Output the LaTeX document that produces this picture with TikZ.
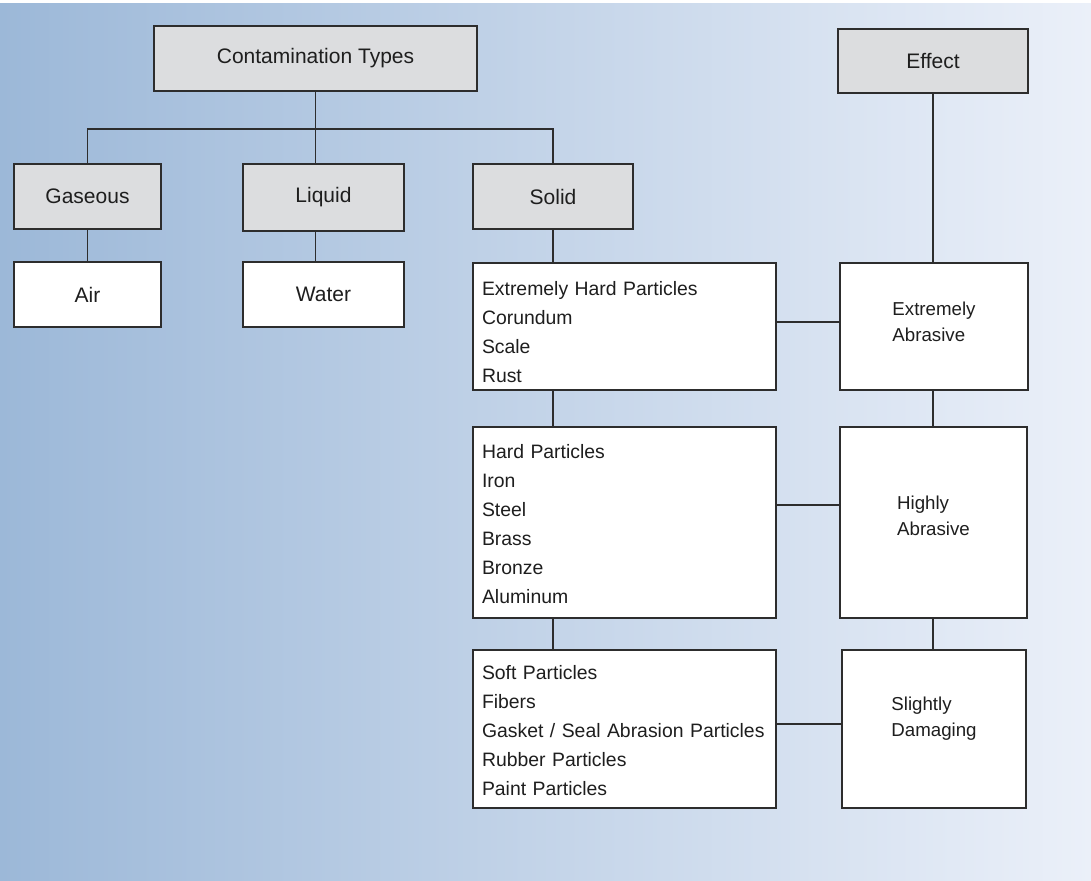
\documentclass[tikz,border=0pt]{standalone}
\usepackage{fontspec}
\setmainfont{Liberation Sans}
\definecolor{bgleft}{RGB}{156,184,216}
\definecolor{bgmid}{RGB}{191,207,230}
\definecolor{bgright}{RGB}{235,240,249}
\definecolor{boxgray}{RGB}{220,221,223}
\definecolor{edge}{RGB}{45,45,45}
\definecolor{ink}{RGB}{30,30,30}
\tikzset{
  box/.style={draw=edge, line width=1.5bp, fill=white, text=ink, inner sep=0pt},
  headbox/.style={box, fill=boxgray, font=\fontsize{21bp}{25bp}\selectfont},
  leafbox/.style={box, font=\fontsize{21bp}{25bp}\selectfont},
  listbox/.style={box, align=left, inner xsep=9bp, text width=285bp,
    font=\fontsize{19.4bp}{29bp}\selectfont},
  effbox/.style={box, align=left, font=\fontsize{18.7bp}{26bp}\selectfont},
  link/.style={draw=edge, line width=1.5bp}
}
\begin{document}
\begin{tikzpicture}[x=1bp, y=-1bp]
    % background
    \useasboundingbox (0,0) rectangle (1091,881);
    \shade[left color=bgleft, middle color=bgmid, right color=bgright] (0,3) rectangle (1091,881);
    % top row
    \node[headbox, minimum width=323bp, minimum height=65bp] (ctypes) at (315.5,58.5) {Contamination Types};
    \node[headbox, minimum width=190bp, minimum height=64bp] (effect) at (933,61) {Effect};
    % kinds
    \node[headbox, minimum width=147bp, minimum height=65bp] (gas) at (87.5,196.5) {Gaseous};
    \node[headbox, minimum width=161bp, minimum height=67bp] (liq) at (323.5,197.5) {Liquid};
    \node[headbox, minimum width=160bp, minimum height=65bp] (sol) at (553,196.5) {Solid};
    \node[leafbox, minimum width=147bp, minimum height=65bp] (air) at (87.5,294.5) {Air};
    \node[leafbox, minimum width=161bp, minimum height=65bp] (water) at (323.5,294.5) {Water};
    % particles
    \node[listbox, minimum height=127bp, text height=26bp] (xhard) at (624.5,326.5)
        {Extremely Hard Particles\\Corundum\\Scale\\Rust};
    \node[listbox, minimum height=191bp, text height=17bp] (hard) at (624.5,522.5)
        {Hard Particles\\Iron\\Steel\\Brass\\Bronze\\Aluminum};
    \node[listbox, minimum height=158bp, text height=18bp] (soft) at (624.5,729)
        {Soft Particles\\Fibers\\Gasket / Seal Abrasion Particles\\Rubber Particles\\Paint Particles};
    % effects
    \node[effbox, minimum width=188bp, minimum height=127bp, text depth=10bp] (xabr) at (934,326.5) {Extremely\\Abrasive};
    \node[effbox, minimum width=187bp, minimum height=191bp, text depth=14bp] (habr) at (933.5,522.5) {Highly\\Abrasive};
    \node[effbox, minimum width=184bp, minimum height=158bp, text depth=24bp] (sdam) at (934,729) {Slightly\\Damaging};
    % tree
    \coordinate (bus) at (315,129);
    \draw[link] (ctypes.south) -- (ctypes.south |- bus);
    \draw[link] (gas.north) -- (gas.north |- bus) -- (sol.north |- bus) -- (sol.north);
    \draw[link] (ctypes.south |- bus) -- (ctypes.south |- liq.north);
    \draw[link] (gas.south) -- (air.north);
    \draw[link] (ctypes.south |- liq.south) -- (ctypes.south |- water.north);
    \draw[link] (sol.south) -- (sol.south |- xhard.north);
    \draw[link] (sol.south |- xhard.south) -- (sol.south |- hard.north);
    \draw[link] (sol.south |- hard.south) -- (sol.south |- soft.north);
    \draw[link] (effect.south) -- (effect.south |- xabr.north);
    \draw[link] (effect.south |- xabr.south) -- (effect.south |- habr.north);
    \draw[link] (effect.south |- habr.south) -- (effect.south |- sdam.north);
    \draw[link] ([yshift=4.5bp]xhard.east) -- ([yshift=4.5bp]xabr.west);
    \draw[link] ([yshift=17.5bp]hard.east) -- ([yshift=17.5bp]habr.west);
    \draw[link] ([yshift=5bp]soft.east) -- ([yshift=5bp]sdam.west);
\end{tikzpicture}
\end{document}
